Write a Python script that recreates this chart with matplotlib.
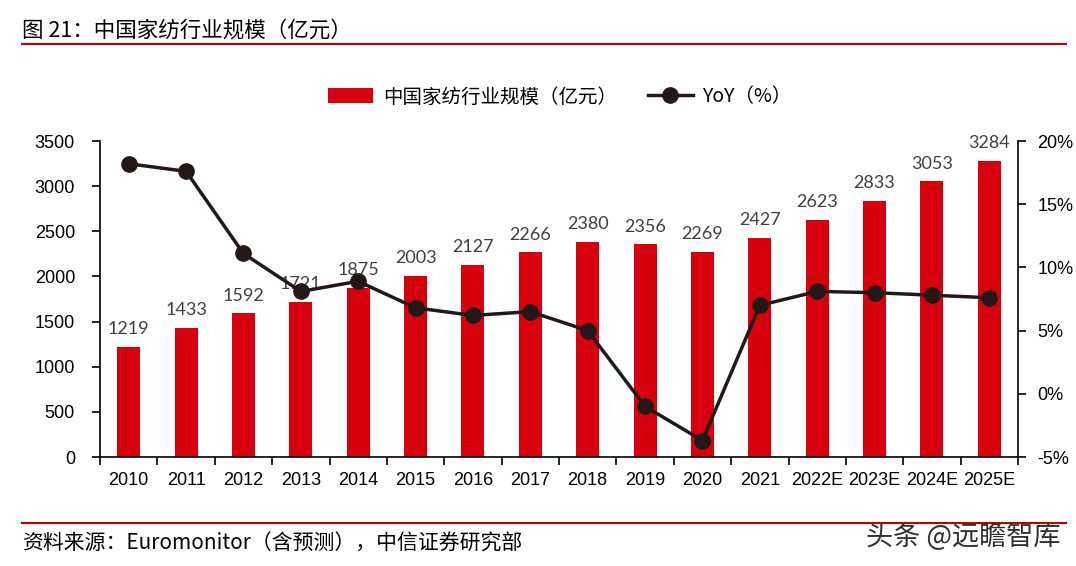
"""China home textile market size chart (bars + YoY line)"""

import matplotlib
matplotlib.use('Agg')
import matplotlib.pyplot as plt
from matplotlib.lines import Line2D
from matplotlib.ticker import FuncFormatter

# ########################################################################## #
# Data #

lYears = ['2010', '2011', '2012', '2013', '2014', '2015', '2016', '2017',
	'2018', '2019', '2020', '2021', '2022E', '2023E', '2024E', '2025E']
lSize = [1219, 1433, 1592, 1721, 1875, 2003, 2127, 2266,
	2380, 2356, 2269, 2427, 2623, 2833, 3053, 3284]
lYoY = [18.2, 17.6, 11.1, 8.1, 8.9, 6.8, 6.2, 6.5,
	5.0, -1.0, -3.7, 7.0, 8.1, 8.0, 7.8, 7.6]

sBarColor = '#D7000F'
sLineColor = '#231815'
sRuleColor = '#C00000'
lCjk = ['Noto Sans CJK SC', 'DejaVu Sans']
sNum = 'Liberation Sans'

# ########################################################################## #

fig = plt.figure(figsize=(10.76, 5.66), dpi=100)
ax = fig.add_axes([100/1076, 1 - 457/566, 918/1076, 316/566])
ax2 = ax.twinx()

aX = range(len(lYears))
bars = ax.bar(aX, lSize, width=0.4, color=sBarColor, label='中国家纺行业规模（亿元）')
ax.bar_label(bars, labels=['%d' % v for v in lSize], padding=7,
	fontsize=13, color='#404040', family='Lato')

ax2.plot(aX, lYoY, '-o', color=sLineColor, lw=2.5, ms=11, label='YoY（%）')

ax.set_xlim(-0.5, len(lYears) - 0.5)
ax.set_ylim(0, 3500)
ax.set_yticks(range(0, 3501, 500))
ax2.set_ylim(-5, 20)
ax2.set_yticks(range(-5, 21, 5))
ax2.yaxis.set_major_formatter(FuncFormatter(lambda v, p: '%d%%' % v))

# x ticks sit between the categories, labels at the centres
ax.set_xticks([i - 0.5 for i in range(len(lYears) + 1)])
ax.set_xticklabels([])
ax.set_xticks(list(aX), minor=True)
ax.set_xticklabels(lYears, minor=True)
ax.tick_params(axis='x', which='minor', length=0, pad=11)
ax.tick_params(axis='x', which='major', length=6, width=1.2, direction='out')

for a in (ax, ax2):
	a.spines['top'].set_visible(False)
	for lab in a.get_xticklabels(minor=True) + a.get_yticklabels():
		lab.set_fontfamily(sNum)
		lab.set_fontsize(13)
ax.spines['right'].set_visible(False)
ax2.spines['left'].set_visible(False)
ax2.spines['bottom'].set_visible(False)
ax.tick_params(axis='y', length=6, width=1.2, pad=12)
ax2.tick_params(axis='y', length=6, width=1.2, pad=8)
for s in ('left', 'bottom'):
	ax.spines[s].set_linewidth(1.2)
ax2.spines['right'].set_linewidth(1.2)

# Legend across the top
h1, l1 = ax.get_legend_handles_labels()
h2, l2 = ax2.get_legend_handles_labels()
fig.legend(h1 + h2, l1 + l2, loc='center', bbox_to_anchor=(560/1076, 1 - 97/566),
	ncol=2, frameon=False, prop={'family': lCjk, 'size': 14},
	handlelength=2.3, handleheight=0.8, columnspacing=1.6, handletextpad=0.5)

# Title, rules and footer
fig.text(22/1076, 1 - 31/566, '图 21：中国家纺行业规模（亿元）', family=lCjk,
	fontsize=15.5, va='center', ha='left')
fig.add_artist(Line2D([22/1076, 1066/1076], [1 - 44/566, 1 - 44/566],
	color=sRuleColor, lw=1.5))
fig.add_artist(Line2D([22/1076, 1066/1076], [1 - 523/566, 1 - 523/566],
	color=sRuleColor, lw=1.5))
fig.text(22/1076, 1 - 544/566, '资料来源：Euromonitor（含预测），中信证券研究部',
	family=lCjk, fontsize=15, va='center', ha='left')
fig.text(1060/1076, 1 - 537/566, '头条 @远瞻智库', family=lCjk,
	fontsize=19.5, va='center', ha='right', color='#303030')

fig.savefig('out.png', dpi=100)
